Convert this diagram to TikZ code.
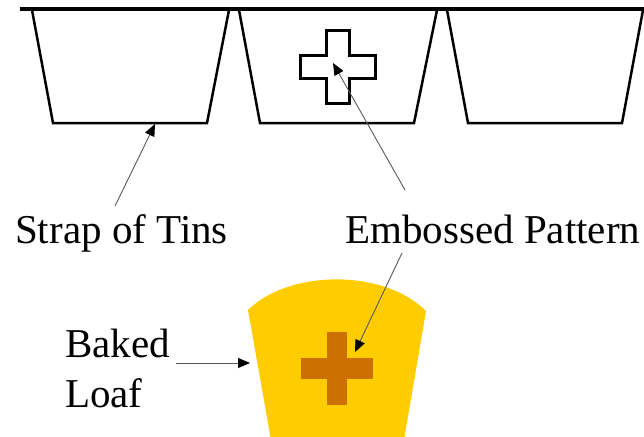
\documentclass[tikz,border=0pt]{standalone}
\usepackage{fontspec}
\setmainfont{Liberation Serif}
\usetikzlibrary{arrows.meta}
\definecolor{loafyellow}{RGB}{255,204,0}
\definecolor{loaforange}{RGB}{204,112,0}
\tikzset{
  tinline/.style={line width=2.5pt, line join=miter},
  rimline/.style={line width=4pt},
  pointer/.style={draw=black!65, line width=0.9pt,
    -{Triangle[length=12pt,width=10pt,black]}},
  labeltext/.style={font=\fontsize{41}{50}\selectfont, inner sep=0pt, align=left},
}
\begin{document}
\begin{tikzpicture}[x=1pt,y=-1pt]
  \useasboundingbox (0,0) rectangle (644,436);

  % strap of three tins
  \draw[rimline] (20,9.5) -- (644,9.5);
  \draw[tinline] (32,10) -- (53,123) -- (207,123) -- (229,10);
  \draw[tinline] (239,10) -- (260,123) -- (414,123) -- (437,10);
  \draw[tinline] (447,10) -- (468,123) -- (622,123) -- (643,10);

  % embossed cross inside the middle tin
  \draw[tinline, line width=3pt] (326,31) -- (349,31) -- (349,55) -- (375,55) -- (375,78)
    -- (349,78) -- (349,103) -- (326,103) -- (326,78) -- (300,78)
    -- (300,55) -- (326,55) -- cycle;

  % baked loaf with its raised cross
  \fill[loafyellow] (248,310) .. controls (290,269) and (384,269) .. (426,311)
    -- (404,440) -- (271,440) -- cycle;
  \fill[loaforange] (327,332) rectangle (347,405);
  \fill[loaforange] (301,358) rectangle (373,379);

  % labels
  \node[labeltext, anchor=base west] (strap) at (15,243) {Strap of Tins};
  \node[labeltext, anchor=base west] (emboss) at (345,243) {Embossed Pattern};
  \node[labeltext, anchor=base west] (baked) at (65,407) {Baked\\Loaf};

  % pointer targets
  \coordinate (tinbase) at (155,124);
  \coordinate (crossmark) at (333,63);
  \coordinate (loafcross) at (355,352);
  \coordinate (loafside) at (250,363);
  \coordinate (strapstart) at (115,206);
  \coordinate (embossup) at (405,190);
  \coordinate (embossdown) at (402,253);
  \coordinate (bakedstart) at (176,363);

  \draw[pointer] (strapstart) -- (tinbase);
  \draw[pointer] (embossup) -- (crossmark);
  \draw[pointer] (embossdown) -- (loafcross);
  \draw[pointer] (bakedstart) -- (loafside);
\end{tikzpicture}
\end{document}
